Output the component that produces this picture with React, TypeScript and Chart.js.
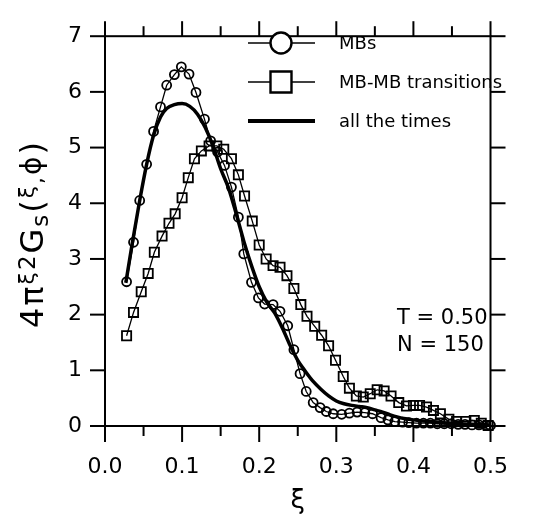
import React, { useEffect, useRef } from "react";
import { Chart, registerables } from "chart.js";

Chart.register(...registerables);

// ---------- data ----------
const MB_X = [0.028, 0.037, 0.045, 0.054, 0.063, 0.072, 0.080, 0.090, 0.099, 0.109, 0.118, 0.129, 0.137, 0.146, 0.155, 0.164, 0.173, 0.180, 0.190, 0.199, 0.207, 0.218, 0.227, 0.237, 0.245, 0.253, 0.261, 0.270, 0.279, 0.287, 0.296, 0.307, 0.317, 0.327, 0.337, 0.347, 0.358, 0.367, 0.376, 0.386, 0.394, 0.404, 0.413, 0.422, 0.431, 0.440, 0.449, 0.458, 0.467, 0.476, 0.485, 0.494, 0.500];
const MB_Y = [2.59, 3.30, 4.05, 4.70, 5.29, 5.73, 6.12, 6.31, 6.45, 6.32, 5.99, 5.51, 5.12, 4.92, 4.68, 4.29, 3.75, 3.09, 2.58, 2.30, 2.19, 2.18, 2.06, 1.80, 1.37, 0.94, 0.62, 0.42, 0.33, 0.26, 0.22, 0.21, 0.23, 0.25, 0.24, 0.22, 0.15, 0.11, 0.08, 0.07, 0.06, 0.05, 0.05, 0.05, 0.04, 0.04, 0.04, 0.03, 0.03, 0.02, 0.02, 0.01, 0.01];

const TR_X = [0.028, 0.037, 0.047, 0.056, 0.064, 0.074, 0.083, 0.091, 0.100, 0.108, 0.116, 0.125, 0.135, 0.145, 0.154, 0.164, 0.173, 0.181, 0.191, 0.200, 0.209, 0.218, 0.227, 0.236, 0.245, 0.254, 0.262, 0.272, 0.281, 0.290, 0.299, 0.309, 0.317, 0.326, 0.335, 0.344, 0.353, 0.362, 0.371, 0.381, 0.391, 0.400, 0.408, 0.417, 0.426, 0.435, 0.446, 0.456, 0.468, 0.479, 0.488, 0.497];
const TR_Y = [1.62, 2.04, 2.41, 2.74, 3.12, 3.41, 3.64, 3.81, 4.10, 4.46, 4.80, 4.94, 5.03, 5.03, 4.97, 4.80, 4.51, 4.13, 3.68, 3.25, 3.00, 2.88, 2.85, 2.70, 2.47, 2.18, 1.97, 1.79, 1.63, 1.44, 1.18, 0.89, 0.68, 0.54, 0.52, 0.58, 0.65, 0.63, 0.54, 0.42, 0.36, 0.37, 0.37, 0.34, 0.28, 0.22, 0.12, 0.08, 0.08, 0.10, 0.05, 0.01];

const ALL_X = [0.027, 0.035, 0.045, 0.054, 0.063, 0.072, 0.080, 0.090, 0.100, 0.110, 0.120, 0.130, 0.140, 0.150, 0.160, 0.170, 0.180, 0.190, 0.200, 0.210, 0.220, 0.230, 0.240, 0.250, 0.260, 0.270, 0.280, 0.290, 0.300, 0.310, 0.320, 0.330, 0.340, 0.350, 0.360, 0.370, 0.380, 0.390, 0.400, 0.420, 0.440, 0.460, 0.480, 0.500];
const ALL_Y = [2.57, 3.25, 4.05, 4.70, 5.22, 5.55, 5.70, 5.77, 5.79, 5.74, 5.60, 5.36, 5.03, 4.62, 4.28, 3.82, 3.32, 2.88, 2.50, 2.22, 2.03, 1.76, 1.45, 1.18, 0.98, 0.80, 0.66, 0.54, 0.45, 0.40, 0.37, 0.35, 0.33, 0.29, 0.25, 0.20, 0.16, 0.13, 0.11, 0.08, 0.06, 0.04, 0.03, 0.02];

const X_MAJOR = [0, 0.1, 0.2, 0.3, 0.4, 0.5];
const X_MINOR = [0.05, 0.15, 0.25, 0.35, 0.45];
const Y_MAJOR = [0, 1, 2, 3, 4, 5, 6, 7];

const LEGEND_LABELS = ["MBs", "MB-MB transitions", "all the times"];
const NOTE_LINES = ["T = 0.50", "N = 150"];
const X_TITLE = "ξ";
// [text, size, vertical shift]
const Y_TITLE_PARTS: [string, number, number][] = [
  ["4", 32, 0],
  ["π", 32, 0],
  ["ξ", 22, -9],
  ["2", 23, -8],
  ["G", 32, 0],
  ["s", 23, 5],
  ["(", 32, 0],
  ["ξ", 22, -9],
  [",", 22, 0],
  ["ϕ", 28, -2],
  [")", 32, 0],
];

const FONT = "'DejaVu Sans', Verdana, sans-serif";

const decorPlugin = {
  id: "decor",
  afterDraw(chart: any) {
    const { ctx, chartArea, scales } = chart;
    const { left, right, top, bottom } = chartArea;
    const xs = scales.x;
    const ys = scales.y;
    ctx.save();
    ctx.strokeStyle = "#000";
    ctx.fillStyle = "#000";
    ctx.lineWidth = 2;
    ctx.lineCap = "butt";
    ctx.strokeRect(left, top, right - left, bottom - top);
    const seg = (x1: number, y1: number, x2: number, y2: number) => {
      ctx.beginPath();
      ctx.moveTo(x1, y1);
      ctx.lineTo(x2, y2);
      ctx.stroke();
    };
    X_MAJOR.forEach((v) => {
      const p = xs.getPixelForValue(v);
      seg(p, bottom, p, bottom + 16);
      seg(p, top, p, top - 15);
    });
    X_MINOR.forEach((v) => {
      const p = xs.getPixelForValue(v);
      seg(p, bottom, p, bottom + 10);
      seg(p, top, p, top - 10);
    });
    Y_MAJOR.forEach((v) => {
      const p = ys.getPixelForValue(v);
      seg(left - 15, p, left, p);
      seg(right, p, right + 15, p);
    });

    // legend
    const rows = [43, 82, 121];
    const lx1 = 248, lx2 = 315, mx = 281, tx = 339;
    ctx.font = `18px ${FONT}`;
    ctx.textBaseline = "middle";
    ctx.textAlign = "left";
    LEGEND_LABELS.forEach((lab, i) => {
      const y = rows[i];
      if (i < 2) {
        ctx.lineWidth = 1.4;
        seg(lx1, y, lx2, y);
        ctx.lineWidth = 2.4;
        ctx.beginPath();
        if (i === 0) ctx.arc(mx, y, 10.5, 0, Math.PI * 2);
        else ctx.rect(mx - 10.5, y - 10.5, 21, 21);
        ctx.fillStyle = "#fff";
        ctx.fill();
        ctx.stroke();
        ctx.fillStyle = "#000";
      } else {
        ctx.lineWidth = 4;
        seg(lx1, y, lx2, y);
      }
      ctx.fillText(lab, tx, y + 1);
    });

    // notes
    ctx.font = `21px ${FONT}`;
    ctx.textBaseline = "middle";
    NOTE_LINES.forEach((t, i) => ctx.fillText(t, 397, 319 + i * 27));

    // x title
    ctx.font = `26px ${FONT}`;
    ctx.textAlign = "center";
    ctx.textBaseline = "alphabetic";
    ctx.fillText(X_TITLE, (left + right) / 2, 508);

    // y title (rotated, mixed sizes)
    ctx.save();
    ctx.translate(43, 235);
    ctx.rotate(-Math.PI / 2);
    ctx.textAlign = "left";
    ctx.textBaseline = "alphabetic";
    const widths = Y_TITLE_PARTS.map(([t, s]) => {
      ctx.font = `${s}px ${FONT}`;
      return ctx.measureText(t).width;
    });
    const natural = widths.reduce((a, b) => a + b, 0);
    const target = 186;
    const gap = Math.max(0, (target - natural) / (Y_TITLE_PARTS.length - 1));
    let cx = -(natural + gap * (Y_TITLE_PARTS.length - 1)) / 2;
    Y_TITLE_PARTS.forEach(([t, s, dy], i) => {
      ctx.font = `${s}px ${FONT}`;
      ctx.fillText(t, cx, dy);
      cx += widths[i] + gap;
    });
    ctx.restore();
    ctx.restore();
  },
};

export default function App() {
  const ref = useRef<HTMLCanvasElement | null>(null);
  useEffect(() => {
    if (!ref.current) return;
    const toPts = (xs: number[], ys: number[]) => xs.map((x, i) => ({ x, y: ys[i] }));
    const chart = new Chart(ref.current, {
      type: "line",
      data: {
        datasets: [
          {
            label: LEGEND_LABELS[2],
            data: toPts(ALL_X, ALL_Y),
            borderColor: "#000",
            borderWidth: 3.5,
            pointRadius: 0,
            cubicInterpolationMode: "monotone",
            fill: false,
            clip: false,
            order: 0,
          },
          {
            label: LEGEND_LABELS[0],
            data: toPts(MB_X, MB_Y),
            borderColor: "#000",
            borderWidth: 1.3,
            pointStyle: "circle",
            pointRadius: 4.5,
            pointBorderWidth: 1.8,
            pointBorderColor: "#000",
            pointBackgroundColor: "rgba(255,255,255,0)",
            fill: false,
            clip: false,
            order: 1,
          },
          {
            label: LEGEND_LABELS[1],
            data: toPts(TR_X, TR_Y),
            borderColor: "#000",
            borderWidth: 1.3,
            pointStyle: "rect",
            pointRadius: 6.5,
            pointBorderWidth: 1.8,
            pointBorderColor: "#000",
            pointBackgroundColor: "rgba(255,255,255,0)",
            fill: false,
            clip: false,
            order: 2,
          },
        ],
      },
      options: {
        animation: false,
        responsive: false,
        devicePixelRatio: 1,
        layout: { padding: { top: 23, right: 29, left: 0, bottom: 0 } },
        plugins: { legend: { display: false }, tooltip: { enabled: false } },
        scales: {
          x: {
            type: "linear",
            min: 0,
            max: 0.5,
            afterFit: (s: any) => {
              s.height = 90;
            },
            grid: { display: false, drawTicks: false },
            border: { display: false },
            ticks: {
              stepSize: 0.1,
              autoSkip: false,
              maxRotation: 0,
              padding: 28,
              color: "#000",
              font: { family: FONT, size: 22 },
              callback: (v: any) => Number(v).toFixed(1),
            },
          },
          y: {
            type: "linear",
            min: 0,
            max: 7,
            afterFit: (s: any) => {
              s.width = 105;
            },
            grid: { display: false, drawTicks: false },
            border: { display: false },
            ticks: {
              stepSize: 1,
              padding: 23,
              color: "#000",
              font: { family: FONT, size: 22 },
            },
          },
        },
      },
      plugins: [decorPlugin],
    } as any);
    return () => chart.destroy();
  }, []);
  return (
    <div style={{ position: "fixed", left: 0, top: 0, width: 536, height: 516, background: "#fff" }}>
      <canvas ref={ref} width={536} height={516} style={{ display: "block" }} />
    </div>
  );
}
